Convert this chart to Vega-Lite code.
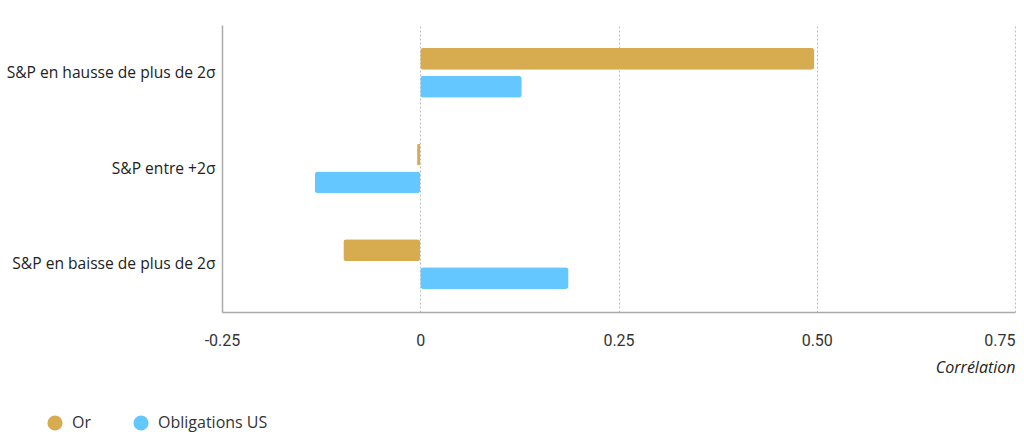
{
  "$schema": "https://vega.github.io/schema/vega-lite/v6.json",
  "autosize": "none",
  "width": 793,
  "height": 287,
  "padding": {"left": 222, "top": 25, "right": 9, "bottom": 129},
  "background": "white",
  "data": {"values": [
    {"scenario": "S&P en hausse de plus de 2σ", "serie": "Or", "corr": 0.497},
    {"scenario": "S&P en hausse de plus de 2σ", "serie": "Obligations US", "corr": 0.128},
    {"scenario": "S&P entre +2σ", "serie": "Or", "corr": -0.004},
    {"scenario": "S&P entre +2σ", "serie": "Obligations US", "corr": -0.133},
    {"scenario": "S&P en baisse de plus de 2σ", "serie": "Or", "corr": -0.097},
    {"scenario": "S&P en baisse de plus de 2σ", "serie": "Obligations US", "corr": 0.187}
  ]},
  "mark": {"type": "bar", "cornerRadius": 3},
  "encoding": {
    "y": {
      "field": "scenario", "type": "nominal",
      "sort": ["S&P en hausse de plus de 2σ", "S&P entre +2σ", "S&P en baisse de plus de 2σ"],
      "scale": {"paddingInner": 0.48, "paddingOuter": 0.24},
      "axis": {"title": null, "ticks": false, "labelLimit": 0, "labelFont": "Open Sans", "labelFontSize": 15.6, "labelColor": "#222", "labelPadding": 7, "domainColor": "#aaa", "domainWidth": 1.5}
    },
    "yOffset": {
      "field": "serie", "type": "nominal",
      "sort": ["Or", "Obligations US"],
      "scale": {"paddingInner": 0.214, "paddingOuter": 0}
    },
    "x": {
      "field": "corr", "type": "quantitative",
      "scale": {"domain": [-0.25, 0.75], "nice": false},
      "axis": {
        "values": [-0.25, 0, 0.25, 0.5, 0.75],
        "labelExpr": "datum.value == 0 ? '0' : replace(format(datum.value, '.2f'), '−', '-')",
        "labelAlign": {"condition": {"test": "datum.value == 0.75", "value": "right"}, "value": "center"},
        "title": "Corrélation", "titleFont": "Open Sans", "titleFontStyle": "italic", "titleFontWeight": "normal", "titleFontSize": 16, "titleColor": "#222",
        "titleAnchor": "end", "titleAlign": "right", "titleX": 793, "titleY": 60, "titleBaseline": "alphabetic",
        "labelFont": "Roboto", "labelFontSize": 16, "labelColor": "#333", "labelPadding": 20,
        "labelFlush": false,
        "ticks": false, "domainColor": "#aaa", "domainWidth": 1.5,
        "grid": true, "gridColor": "#bdbdbd", "gridDash": [2, 2], "gridWidth": 1
      }
    },
    "color": {
      "field": "serie", "type": "nominal",
      "sort": ["Or", "Obligations US"],
      "scale": {"domain": ["Or", "Obligations US"], "range": ["#D7AB4F", "#64C7FF"]},
      "legend": {
        "title": null, "orient": "none", "direction": "horizontal",
        "legendX": -175, "legendY": 390,
        "symbolType": "circle", "symbolSize": 230, "symbolOpacity": 1, "symbolStrokeWidth": 0,
        "labelFont": "Open Sans", "labelFontSize": 16, "labelColor": "#333",
        "columnPadding": 42, "labelOffset": 9
      }
    }
  },
  "config": {"view": {"stroke": null}}
}
